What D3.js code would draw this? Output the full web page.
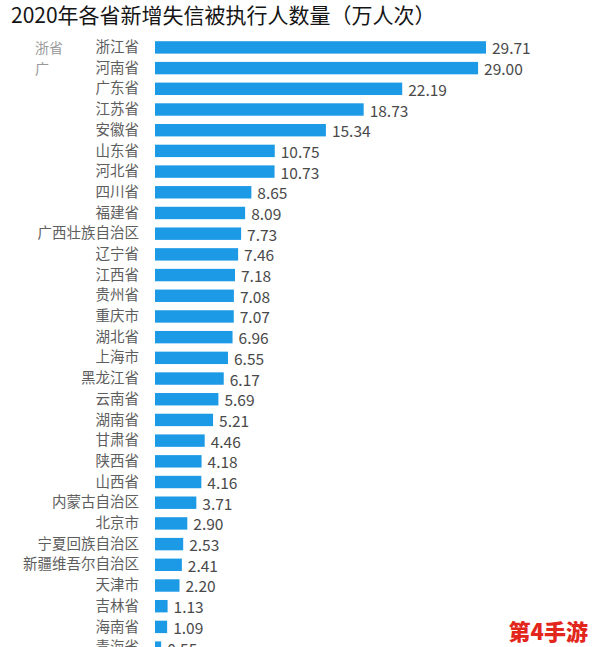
<!DOCTYPE html>
<html>
<head>
<meta charset="utf-8">
<script src="https://cdn.jsdelivr.net/npm/d3@7"></script>
<style>
  body { margin:0; background:#fff; font-family:"Noto Sans CJK SC","Noto Sans",sans-serif; }
  svg { display:block; }
</style>
</head>
<body>
<script>
// data
var provinces = ["浙江省","河南省","广东省","江苏省","安徽省","山东省","河北省","四川省","福建省","广西壮族自治区",
                 "辽宁省","江西省","贵州省","重庆市","湖北省","上海市","黑龙江省","云南省","湖南省","甘肃省",
                 "陕西省","山西省","内蒙古自治区","北京市","宁夏回族自治区","新疆维吾尔自治区","天津市","吉林省","海南省","青海省"];
var counts = [29.71,29.00,22.19,18.73,15.34,10.75,10.73,8.65,8.09,7.73,
              7.46,7.18,7.08,7.07,6.96,6.55,6.17,5.69,5.21,4.46,
              4.18,4.16,3.71,2.90,2.53,2.41,2.20,1.13,1.09,0.55];
var title = "2020年各省新增失信被执行人数量（万人次）";

// setup
var width = 594, height = 647,
    margin = {left:155, top:35},
    svg = d3.select("body").append("svg").attr("width",width).attr("height",height),
    data = provinces.map(function(p,i){ return {name:p, value:counts[i]}; });

svg.append("text")
   .attr("x",11).attr("y",23)
   .attr("font-size","21px").attr("font-weight",400).attr("fill","#151515")
   .text(title);

// stray fragments at the left of the picture
svg.append("text").attr("x",35).attr("y",47).attr("dominant-baseline","central")
   .attr("font-size","14px").attr("fill","#999").text("浙省");
svg.append("text").attr("x",35).attr("y",68).attr("dominant-baseline","central")
   .attr("font-size","14px").attr("fill","#999").text("广");

var x = d3.scaleLinear()
          .domain([0, d3.max(counts)])
          .range([0, 331]),
    y = d3.scaleBand()
          .domain(provinces)
          .range([0, 625])
          .paddingInner(0.4)
          .paddingOuter(0.3);

var chartGroup = svg.append("g").attr("transform","translate("+margin.left+","+margin.top+")");

chartGroup.selectAll("rect")
   .data(data)
   .enter().append("rect")
     .attr("x",0)
     .attr("y",function(d){ return y(d.name); })
     .attr("width",function(d){ return x(d.value); })
     .attr("height",y.bandwidth())
     .attr("fill","#1c9ae6");

chartGroup.selectAll("text.val")
   .data(data)
   .enter().append("text")
     .attr("class","val")
     .attr("x",function(d){ return x(d.value) + 6; })
     .attr("y",function(d){ return y(d.name) + y.bandwidth()/2; })
     .attr("dominant-baseline","central")
     .attr("font-size","15.5px").attr("fill","#4a4a4a")
     .text(function(d){ return d.value.toFixed(2); });

var yAxis = d3.axisLeft(y).tickSize(0).tickPadding(16);
var ax = chartGroup.append("g").attr("class","y axis").call(yAxis);
ax.select(".domain").remove();
ax.selectAll("text")
  .attr("font-family","Noto Sans CJK SC")
  .attr("font-size","14.5px")
  .attr("fill","#5e5e5e");

// watermark
svg.append("text")
   .attr("x",588).attr("y",640).attr("text-anchor","end")
   .attr("font-size","22px").attr("font-weight",900).attr("fill","#e3261c")
   .text("第4手游");
</script>
</body>
</html>
